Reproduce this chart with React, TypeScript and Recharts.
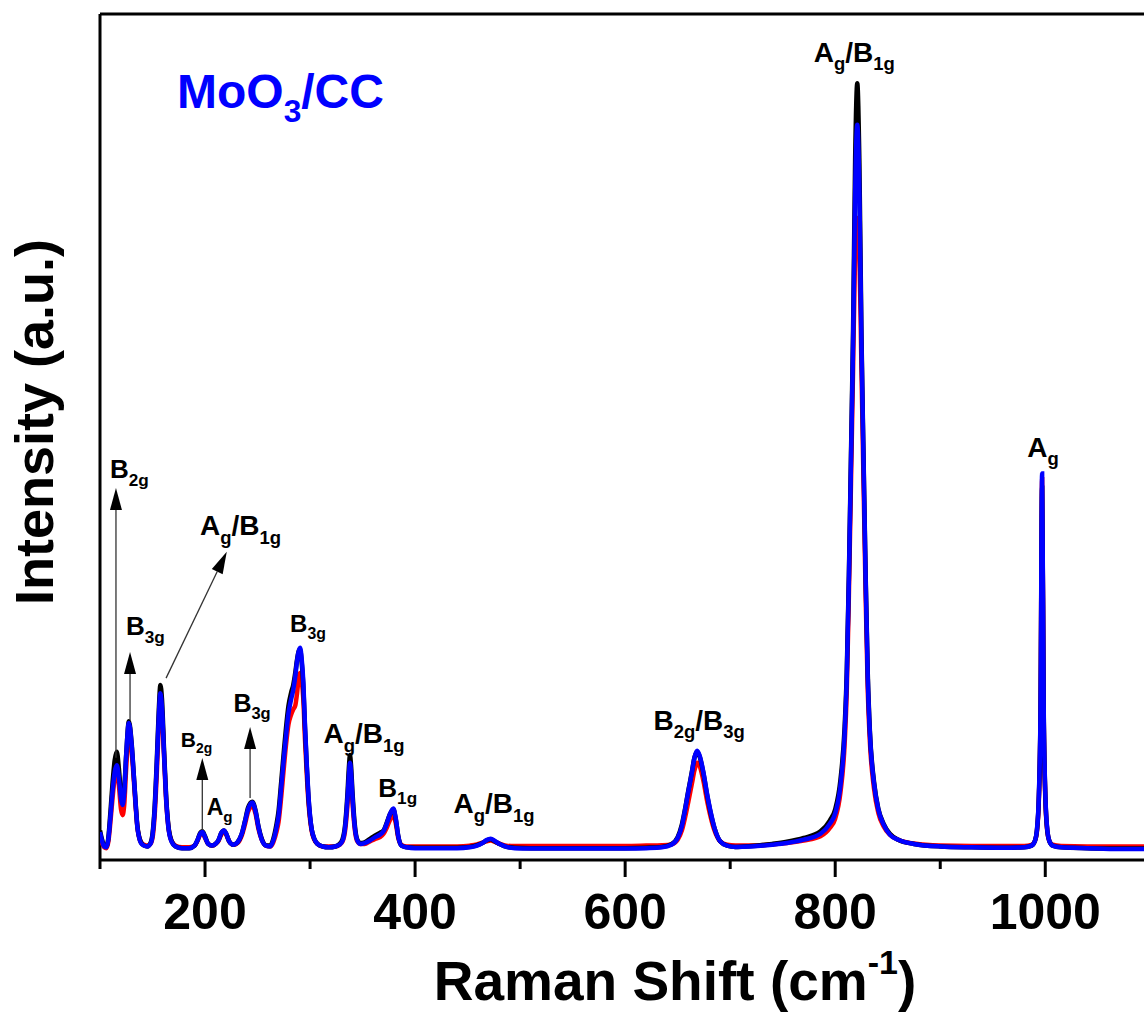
import React from 'react'
import { LineChart, Line, XAxis, YAxis, ReferenceLine, ReferenceDot } from 'recharts'

const FONT = '"Liberation Sans", Arial, Helvetica, sans-serif'

// Raman shift (cm-1) sample positions
const wavenumbers = [
  100, 102, 104, 106, 108, 110, 112, 114, 116, 118, 120, 121.5, 123, 125, 127.5, 130, 132, 134, 135.5, 137,
  139, 142, 145, 148, 150, 152, 154, 156, 157.5, 159, 161, 163, 165, 168, 172, 178, 185, 190, 193, 195,
  197.5, 200, 203, 206.5, 210, 213, 215.5, 218, 220.5, 223, 227, 231, 235, 238, 241, 245, 248, 251, 254, 258,
  262, 265, 268, 270, 272.5, 274.6, 277, 279.4, 282, 284, 286, 287.5, 289, 290.5, 292, 293.6, 295.2, 296.8, 298.4, 300,
  301.6, 304, 307, 312, 318, 324, 328, 331, 333.5, 335.5, 337, 338, 339, 340.5, 342.5, 345, 348, 352, 357, 362,
  366.5, 370, 373, 376, 379.3, 381.5, 384, 387, 392, 400, 420, 440, 452, 459, 464, 468, 472, 476, 481, 487,
  495, 510, 540, 570, 600, 620, 635, 644, 650, 654, 657, 660, 663.5, 666, 668.6, 671, 674.6, 678, 681, 685,
  690.5, 697, 705, 720, 740, 754, 770, 786, 795, 800, 805, 809, 811, 813, 815, 817, 819, 821, 823, 825,
  827, 829, 831, 833, 837, 841, 846, 852, 860, 875, 900, 930, 960, 980, 987, 990, 992, 994, 995.5, 997,
  998.5, 1000, 1002, 1004, 1007, 1015, 1040, 1070, 1094,
]

const blueCounts = [
  33, 22, 16, 15, 25, 52, 82, 104, 112, 97, 72, 65, 78, 125, 162, 138, 103, 65, 40, 28,
  20, 17, 16, 19, 29, 58, 110, 170, 197, 180, 125, 72, 40, 22, 16, 14, 14, 17, 24, 30,
  33, 27, 19, 17, 19, 24, 32, 35, 30, 22, 18, 21, 31, 45, 60, 68, 58, 38, 24, 17,
  16, 23, 38, 52, 85, 114, 145, 173, 190, 201, 218, 234, 246, 251, 238, 210, 158, 115, 77, 52,
  36, 25, 19, 16, 15, 16, 18, 23, 40, 70, 100, 115, 104, 72, 40, 23, 19, 20, 23, 27,
  30, 34, 43, 54, 61, 50, 28, 17, 15, 14, 14, 14, 15, 17, 20, 23.5, 25, 22.5, 18.5, 15.5,
  14, 13.5, 13.5, 13.5, 13.5, 14, 15, 18, 26, 40, 59, 80, 103, 121, 129, 123, 103, 78, 59, 38,
  22, 17, 15.5, 16, 18, 20, 24, 31, 43, 55, 88, 150, 215, 330, 470, 610, 790, 869, 790, 610,
  470, 330, 215, 150, 90, 60, 42, 30, 24, 19, 16, 15, 14.5, 15, 17, 22, 35, 80, 180, 457,
  180, 80, 35, 22, 17, 15, 14, 13, 13,
]

const blackCounts = [
  35, 24, 17, 16, 27, 58, 92, 118, 128, 108, 78, 71, 82, 126, 164, 140, 104, 66, 41, 29,
  21, 17, 16, 20, 31, 62, 115, 178, 207, 190, 130, 75, 42, 23, 16, 14, 14, 17, 24, 31,
  34, 28, 19, 17, 19, 24, 32, 35, 30, 22, 18, 21, 31, 46, 62, 69, 59, 39, 25, 17,
  17, 25, 42, 58, 92, 122, 155, 182, 198, 207, 222, 236, 246, 249, 234, 205, 155, 112, 75, 51,
  36, 25, 19, 16, 15, 16, 19, 25, 43, 76, 110, 124, 112, 78, 43, 24, 20, 21, 25, 29,
  32, 35, 44, 54, 60, 49, 28, 17, 15, 14.5, 14.5, 14.5, 15.5, 17.5, 20, 23, 24.5, 22, 18.5, 15.5,
  14.5, 14, 14, 14, 14, 14.5, 15.5, 18.5, 27, 42, 60, 81, 104, 121, 128, 122, 102, 77, 58, 38,
  22, 17, 15.5, 16.5, 19, 21.5, 26, 34, 47, 60, 95, 158, 222, 335, 478, 625, 830, 918, 825, 620,
  475, 335, 220, 153, 92, 61, 43, 31, 24, 19, 16, 15, 14.5, 15, 17, 22, 34, 78, 175, 440,
  175, 78, 34, 22, 17, 15, 14, 13.5, 13.5,
]

const redCounts = [
  30, 20, 15, 14, 22, 46, 74, 97, 106, 88, 60, 53, 64, 110, 150, 130, 98, 62, 40, 28,
  21, 18, 17, 19, 26, 52, 100, 160, 188, 175, 122, 70, 40, 23, 17, 15, 15, 17, 23, 29,
  32, 26, 19, 17, 19, 23, 30, 34, 29, 22, 18, 20, 29, 42, 57, 64, 55, 36, 24, 17,
  16, 21, 33, 45, 74, 103, 135, 160, 172, 178, 183, 196, 213, 221, 212, 190, 142, 103, 70, 48,
  34, 24, 19, 16, 16, 16, 18, 22, 36, 63, 92, 105, 95, 66, 37, 22, 19, 19, 22, 25,
  27, 31, 38, 47, 53, 44, 26, 18, 16, 16, 16, 16, 17, 18.5, 20.5, 22, 23, 21.5, 19, 17,
  16.5, 16.5, 16.5, 16.5, 16.5, 17, 17.5, 18.5, 24, 35, 50, 68, 90, 106, 115, 111, 93, 70, 53, 35,
  22, 18, 17, 17, 18.5, 20, 23, 28, 38, 49, 80, 138, 200, 312, 445, 580, 720, 759, 720, 580,
  445, 312, 200, 140, 84, 56, 40, 30, 24, 19.5, 17, 16.5, 16.5, 16.5, 18, 22, 33, 75, 170, 450,
  170, 75, 33, 22, 18, 16.5, 16, 16, 16,
]

const xTicks = [100, 200, 300, 400, 500, 600, 700, 800, 900, 1000]

type Part = [string, boolean]

// mode assignments placed in data coordinates (left edge, baseline)
const peakLabels: { x: number; y: number; size: number; parts: Part[] }[] = [
  { x: 109.5, y: 451.5, size: 26, parts: [['B', false], ['2g', true]] },
  { x: 124.8, y: 266, size: 26, parts: [['B', false], ['3g', true]] },
  { x: 195.2, y: 384, size: 28, parts: [['A', false], ['g', true], ['/B', false], ['1g', true]] },
  { x: 176.9, y: 134, size: 21, parts: [['B', false], ['2g', true]] },
  { x: 201.6, y: 53, size: 23, parts: [['A', false], ['g', true]] },
  { x: 227, y: 175, size: 25, parts: [['B', false], ['3g', true]] },
  { x: 281, y: 270, size: 24, parts: [['B', false], ['3g', true]] },
  { x: 312.7, y: 138, size: 28, parts: [['A', false], ['g', true], ['/B', false], ['1g', true]] },
  { x: 365, y: 75, size: 26, parts: [['B', false], ['1g', true]] },
  { x: 436.5, y: 55, size: 28, parts: [['A', false], ['g', true], ['/B', false], ['1g', true]] },
  { x: 627, y: 153.7, size: 28, parts: [['B', false], ['2g', true], ['/B', false], ['3g', true]] },
  { x: 779.5, y: 943.6, size: 28, parts: [['A', false], ['g', true], ['/B', false], ['1g', true]] },
  { x: 982.9, y: 476.7, size: 28, parts: [['A', false], ['g', true]] },
]

const sampleLabel = { x: 173.3, y: 888.9, size: 48, parts: [['MoO', false], ['3', true], ['/CC', false]] as Part[] }

const arrows = [
  { from: [115.2, 121], to: [115.2, 439.7] },
  { from: [128.6, 165.5], to: [128.6, 245.9] },
  { from: [162.9, 215], to: [220.7, 364.4] },
  { from: [197.4, 35.5], to: [197.4, 120.6] },
  { from: [242.9, 73.3], to: [242.9, 157.2] },
]

const chartData = wavenumbers.map((w, i) => ({
  shift: w,
  black: blackCounts[i],
  red: redCounts[i],
  blue: blueCounts[i],
}))

function RichText({ cx, cy, size, parts, fill = '#000' }: any) {
  const sub = size * 0.66
  const off = size * 0.3
  let lowered = false
  return (
    <text x={cx} y={cy} fontSize={size} fontWeight="bold" fontFamily={FONT} fill={fill}>
      {parts.map(([t, isSub]: Part, i: number) => {
        let dy = 0
        if (isSub && !lowered) {
          dy = off
          lowered = true
        } else if (!isSub && lowered) {
          dy = -off
          lowered = false
        }
        return (
          <tspan key={i} dy={dy} fontSize={isSub ? sub : size}>
            {t}
          </tspan>
        )
      })}
    </text>
  )
}

function ArrowShape(props: any) {
  const { x1, y1, x2, y2 } = props
  const dx = x2 - x1
  const dy = y2 - y1
  const len = Math.hypot(dx, dy) || 1
  const ux = dx / len
  const uy = dy / len
  const headLen = 22
  const headW = 6
  const bx = x2 - ux * headLen
  const by = y2 - uy * headLen
  return (
    <g>
      <line x1={x1} y1={y1} x2={bx} y2={by} stroke="#333" strokeWidth={1.3} />
      <polygon
        points={`${x2},${y2} ${bx - uy * headW},${by + ux * headW} ${bx + uy * headW},${by - ux * headW}`}
        fill="#000"
      />
    </g>
  )
}

function AxisTick({ x, y, payload }: any) {
  const major = payload.value % 200 === 0
  return (
    <g>
      <line x1={x} x2={x} y1={y} y2={y + (major ? 17 : 9)} stroke="#000" strokeWidth={3} />
      {major && (
        <text x={x} y={y + 69} textAnchor="middle" fontSize={50} fontWeight="bold" fontFamily={FONT} fill="#000">
          {payload.value}
        </text>
      )}
    </g>
  )
}

function XTitle({ viewBox }: any) {
  const vb = viewBox || { x: 100, y: 860 }
  return (
    <text x={vb.x + 575} y={vb.y + 140} textAnchor="middle" fontSize={55} fontWeight="bold" fontFamily={FONT} fill="#000">
      <tspan>Raman Shift (cm</tspan>
      <tspan fontSize={34} dy={-26}>-1</tspan>
      <tspan dy={26}>)</tspan>
    </text>
  )
}

function YTitle({ viewBox }: any) {
  const vb = viewBox || { x: 100, y: 14 }
  const cx = vb.x - 47
  const cy = vb.y + 408
  return (
    <text
      x={cx}
      y={cy}
      transform={`rotate(-90 ${cx} ${cy})`}
      textAnchor="middle"
      fontSize={54}
      fontWeight="bold"
      fontFamily={FONT}
      fill="#000"
    >
      Intensity (a.u.)
    </text>
  )
}

export default function App() {
  return (
    <div style={{ position: 'absolute', left: 0, top: 0, background: '#fff' }}>
      <LineChart width={1144} height={1012} data={chartData} margin={{ top: 14, right: 0, left: 100, bottom: 0 }}>
        <XAxis
          dataKey="shift"
          type="number"
          domain={[100, 1094]}
          allowDataOverflow
          ticks={xTicks}
          interval={0}
          height={152}
          tickSize={0}
          tickMargin={0}
          tickLine={false}
          tick={<AxisTick />}
          axisLine={{ stroke: '#000', strokeWidth: 3 }}
          label={<XTitle />}
        />
        <YAxis type="number" domain={[0, 1000]} allowDataOverflow hide />

        {/* frame: left axis and top border */}
        <ReferenceLine x={100} stroke="#000" strokeWidth={3} ifOverflow="visible" label={<YTitle />} />
        <ReferenceLine y={1000} stroke="#000" strokeWidth={3} ifOverflow="visible" />

        <Line type="monotone" dataKey="red" stroke="#ff0000" strokeWidth={4.5} dot={false} isAnimationActive={false} />
        <Line type="monotone" dataKey="black" stroke="#000000" strokeWidth={4.5} dot={false} isAnimationActive={false} />
        <Line type="monotone" dataKey="blue" stroke="#0000ff" strokeWidth={4.5} dot={false} isAnimationActive={false} />

        {arrows.map((a, i) => (
          <ReferenceLine
            key={`arrow-${i}`}
            segment={[
              { x: a.from[0], y: a.from[1] },
              { x: a.to[0], y: a.to[1] },
            ]}
            ifOverflow="visible"
            shape={(p: any) => <ArrowShape {...p} />}
          />
        ))}

        {peakLabels.map((l, i) => (
          <ReferenceDot
            key={`label-${i}`}
            x={l.x}
            y={l.y}
            r={0}
            ifOverflow="visible"
            shape={(p: any) => <RichText cx={p.cx} cy={p.cy} size={l.size} parts={l.parts} />}
          />
        ))}

        <ReferenceDot
          x={sampleLabel.x}
          y={sampleLabel.y}
          r={0}
          ifOverflow="visible"
          shape={(p: any) => (
            <RichText cx={p.cx} cy={p.cy} size={sampleLabel.size} parts={sampleLabel.parts} fill="#0000ff" />
          )}
        />
      </LineChart>
    </div>
  )
}
